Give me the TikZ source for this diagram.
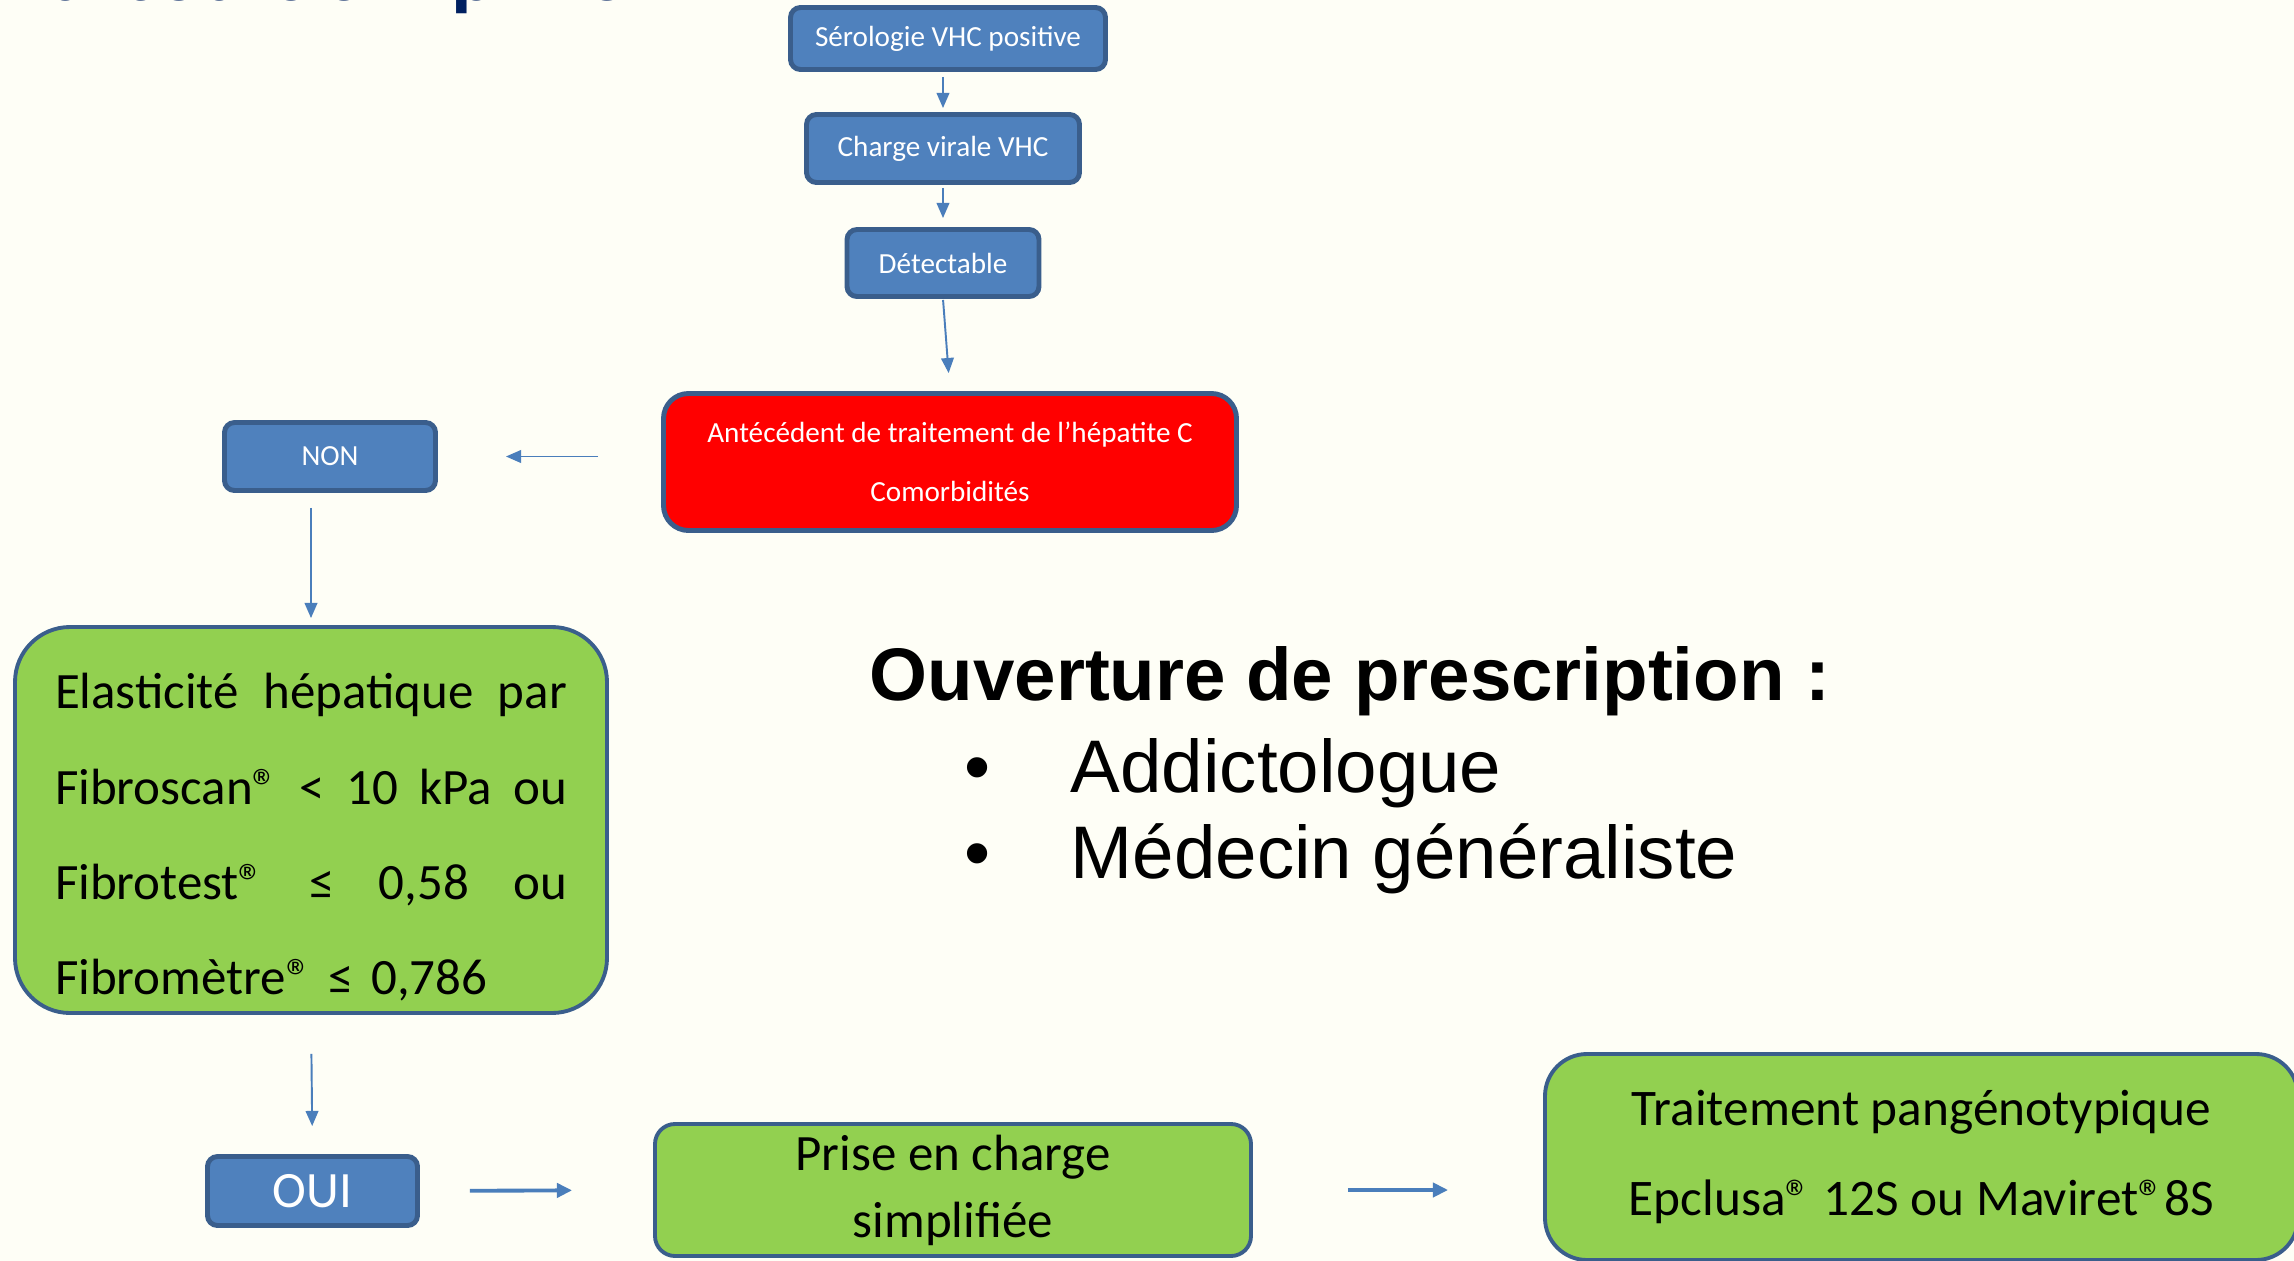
\documentclass[tikz,border=0pt]{standalone}
\usepackage{fontspec}
\setmainfont{Carlito}
\newfontfamily\arialfont{Liberation Sans}
\usepackage{tikz}
\usetikzlibrary{arrows.meta,positioning}
\definecolor{bgcream}{RGB}{254,254,246}
\definecolor{boxblue}{RGB}{79,129,189}
\definecolor{edgeblue}{RGB}{58,94,140}
\definecolor{arrowblue}{RGB}{74,126,187}
\definecolor{boxgreen}{RGB}{146,208,80}
\definecolor{titlenavy}{RGB}{0,32,96}
\newcommand{\jline}[1]{\leavevmode\hbox to 5.12cm{#1}}

\begin{document}
\begin{tikzpicture}[
    bluebox/.style={draw=edgeblue, fill=boxblue, line width=1.4pt, rounded corners=0.1cm,
      text=white, inner sep=0pt, font=\fontsize{8.3}{10}\selectfont},
    redbox/.style={draw=edgeblue, fill=red, line width=1.4pt, rounded corners=0.25cm,
      text=white, align=center, inner sep=0pt, font=\fontsize{8.3}{16.8}\selectfont},
    greenbox/.style={draw=edgeblue, fill=boxgreen, line width=1.1pt, align=center,
      inner sep=0pt},
    thinarrow/.style={-{Triangle[length=4.3pt,width=3.6pt]}, line width=0.55pt, arrowblue},
    thickarrow/.style={-{Triangle[length=4.3pt,width=4pt]}, line width=1.1pt, arrowblue}
  ]
    % Page
    \fill[bgcream] (0,0) rectangle (22.94,-12.61);
    \useasboundingbox (0,0) rectangle (22.94,-12.61);
    % Title, cut by the top edge
    \node[anchor=base east, inner sep=0pt, text=titlenavy, font=\fontsize{24}{28}\selectfont\bfseries]
      (titre) at (6.28,-0.005) {Parcours simplifié};
    % Screening chain
    \node[bluebox, minimum width=3.15cm, minimum height=0.62cm] (sero) at (9.48,-0.385) {Sérologie VHC positive};
    \node[bluebox, minimum width=2.73cm, minimum height=0.68cm] (charge) at (9.43,-1.485) {Charge virale VHC};
    \node[bluebox, minimum width=1.92cm, minimum height=0.67cm] (detect) at (9.43,-2.63) {Détectable};
    \node[redbox, minimum width=5.73cm, minimum height=1.37cm] (anted) at (9.50,-4.62)
      {Antécédent de traitement de l’hépatite C\\Comorbidités};
    \node[bluebox, minimum width=2.11cm, minimum height=0.68cm] (non) at (3.30,-4.565) {NON};
    % Fibrosis criteria
    \node[greenbox, rounded corners=0.55cm, minimum width=5.92cm, minimum height=3.86cm,
      text width=5.12cm, align=left, font=\fontsize{14.5}{27.1}\selectfont] (elast) at (3.11,-8.20)
      {\rule{0pt}{0.70cm}\jline{Elasticité\hfill hépatique\hfill par}\\
       \jline{Fibroscan®\hfill <\hfill 10\hfill kPa\hfill ou}\\
       \jline{Fibrotest®\hfill ≤\hfill 0,58\hfill ou}\\
       Fibromètre® ≤ 0,786};
    % Bottom row
    \node[bluebox, minimum width=2.10cm, minimum height=0.69cm, font=\fontsize{14.5}{17}\selectfont]
      (oui) at (3.125,-11.91) {OUI};
    \node[greenbox, rounded corners=0.2cm, minimum width=5.96cm, minimum height=1.32cm,
      font=\fontsize{14.5}{19.1}\selectfont] (prise) at (9.53,-11.90) {Prise en charge\\simplifiée};
    \node[greenbox, rounded corners=0.42cm, minimum width=7.53cm, minimum height=2.06cm,
      font=\fontsize{14.6}{25.6}\selectfont] (trait) at (19.215,-11.57)
      {Traitement pangénotypique\\Epclusa® 12S ou Maviret®8S};
    % Prescribers
    \node[anchor=base west, inner sep=0pt, font=\arialfont\bfseries\fontsize{21.2}{25}\selectfont]
      (presc) at (8.69,-7.00) {Ouverture de prescription :};
    \node[anchor=base west, inner sep=0pt, font=\arialfont\fontsize{21.2}{25}\selectfont]
      (addicto) at (9.64,-7.92) {\makebox[1.06cm][l]{•}Addictologue};
    \node[anchor=base west, inner sep=0pt, font=\arialfont\fontsize{21.2}{25}\selectfont]
      (medgen) at (9.64,-8.78) {\makebox[1.06cm][l]{•}Médecin généraliste};
    % Connectors
    \draw[thinarrow, shorten <=0.05cm, shorten >=0.04cm] (charge.north |- sero.south) -- (charge.north);
    \draw[thinarrow, shorten <=0.03cm, shorten >=0.09cm] (detect.north |- charge.south) -- (detect.north);
    \draw[thinarrow, shorten <=0.01cm, shorten >=0.18cm] (detect.south) -- (anted.north);
    \draw[thinarrow, shorten <=0.63cm, shorten >=0.68cm] (non.east -| anted.west) -- (non.east);
    \draw[thinarrow, shorten <=0.15cm, shorten >=0.07cm] (elast.north |- non.south) -- (elast.north);
    \draw[thinarrow, shorten <=0.39cm, shorten >=0.28cm] (elast.south) -- (oui.north);
    \draw[thickarrow, shorten <=0.50cm, shorten >=0.81cm] (oui.east) -- (prise.west);
    \draw[thickarrow, shorten <=0.95cm, shorten >=0.95cm] (prise.east) -- (prise.east -| trait.west);
\end{tikzpicture}
\end{document}
